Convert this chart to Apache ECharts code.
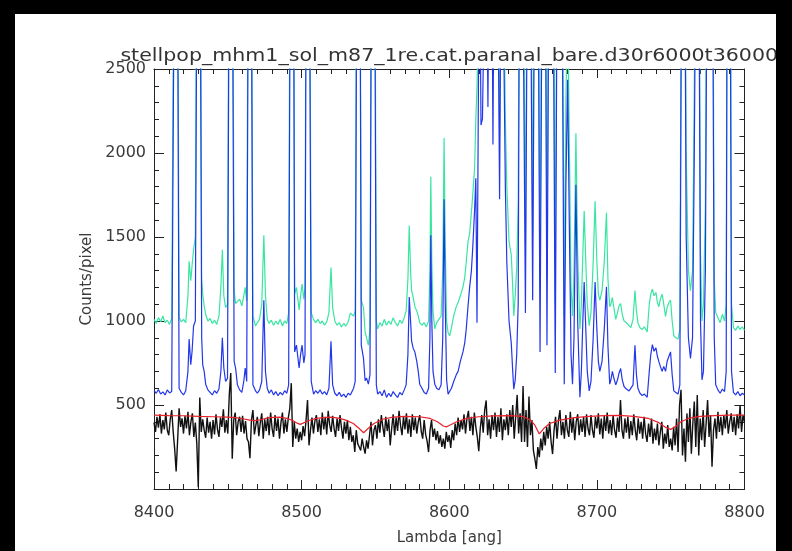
<!DOCTYPE html>
<html>
<head>
<meta charset="utf-8">
<script src="https://cdn.jsdelivr.net/npm/echarts@6/dist/echarts.min.js"></script>
<style>
  html, body { margin: 0; padding: 0; width: 792px; height: 551px; background: #000; overflow: hidden; }
  #chart { position: absolute; left: 15px; top: 14px; width: 761px; height: 537px; background: #fff; }
</style>
</head>
<body>
<div id="chart"></div>
<script>
// Axis ranges and tick labels
const xTicks = [8400, 8500, 8600, 8700, 8800];
const yTicks = [500, 1000, 1500, 2000, 2500];
const titleText = 'stellpop_mhm1_sol_m87_1re.cat.paranal_bare.d30r6000t36000';

// Object + sky spectrum (green), [lambda, counts]
const skyPlusObject = [
  [8400,1010],[8401.5,985],[8403,1020],[8404.5,995],[8406,1030],[8407.5,990],[8409,1005],[8410.5,980],[8412,1015],
  [8412.6,1020],[8413.6,3500],[8414.8,9000],[8416,3500],[8417,1020],[8418.5,995],[8420,1010],[8421.5,990],[8423,1150],
  [8423.8,1356],[8424.9,1240],[8425.8,1330],[8426.8,1424],[8428,1500],[8429,3500],[8430.2,9000],[8431.4,3500],[8432.3,1250],
  [8433,1160],[8434,1090],[8435,1040],[8436.5,1000],[8438,1015],[8439.5,985],[8441,1005],[8442.5,980],[8444,1030],
  [8445.3,1200],[8446.3,1424],[8447.3,1150],[8448.5,1080],[8449.8,1100],[8450.8,3500],[8452,9000],[8453.2,3500],[8454.3,1180],
  [8455.3,1104],[8456.5,1100],[8458,1130],[8459.5,1090],[8460.8,1150],[8461.8,1200],[8462.8,1120],[8463.8,3500],[8464.8,9000],
  [8466,3500],[8467,1030],[8468.8,970],[8470,990],[8471.5,1010],[8473,1100],[8474.4,1510],[8475.5,1150],[8476.7,1010],
  [8478,985],[8479.5,1005],[8481,975],[8482.5,1000],[8484,980],[8485.5,1010],[8487,970],[8488.5,1000],[8490,985],
  [8491.2,1050],[8492.2,3500],[8493.4,9000],[8494.6,3500],[8495.3,1160],[8496.5,1200],[8498.3,1066],[8499.3,1150],[8500.3,1220],
  [8501.5,1130],[8502.3,1200],[8503,3500],[8504.2,9000],[8505.4,3500],[8506.5,1050],[8508.1,1008],[8509.5,990],[8511,1010],
  [8512.5,985],[8514,1000],[8515.5,975],[8517,995],[8518.5,1050],[8519.9,1318],[8521,1080],[8522.5,1000],[8524,975],
  [8525.5,990],[8527,965],[8528.5,985],[8530,970],[8531.5,995],[8533,1047],[8535.2,1030],[8536.3,1060],[8537.3,3500],
  [8538.5,9000],[8539.6,3500],[8540.4,1124],[8541.9,1080],[8543,933],[8544,900],[8545.2,856],[8546.3,950],[8547.2,3500],
  [8548.4,9000],[8549.6,3500],[8550.6,1000],[8551.5,953],[8553,990],[8554.5,970],[8556,1010],[8557.5,975],[8559,1000],
  [8560.5,980],[8562,1020],[8563.5,990],[8565,970],[8566.5,1005],[8568,985],[8569.5,1020],[8570.8,1060],[8572,1250],
  [8572.9,1568],[8573.8,1300],[8574.5,1180],[8575.5,1143],[8576.7,1085],[8578,1060],[8579,1030],[8580,989],[8581.5,975],
  [8583,990],[8584.5,965],[8586,1000],[8586.9,1300],[8587.5,1858],[8588.2,1350],[8589,1060],[8590.2,953],[8591.5,990],
  [8593,1010],[8594.5,1030],[8595.6,1300],[8596.5,2089],[8597.3,1450],[8598.2,1000],[8599.2,930],[8600.3,912],[8601.5,960],
  [8603,1030],[8604.8,1087],[8606,1110],[8607.5,1150],[8609.3,1202],[8610.5,1260],[8611.5,1350],[8612.7,1472],[8613.8,1520],
  [8615,1645],[8616,1760],[8617.2,1915],[8618,2200],[8618.8,2400],[8619.5,2700],[8620.5,4000],[8621.5,2650],[8622.5,2700],
  [8623.5,3200],[8624.5,5500],[8625.5,3500],[8626.2,2700],[8627.2,4000],[8628.2,5500],[8629,3500],[8629.6,2500],[8630.5,4000],
  [8631.5,6500],[8633,3500],[8634.1,2150],[8635,3500],[8636,5500],[8637,3000],[8638,2200],[8639,1800],[8640.5,1472],
  [8642,1395],[8643,1200],[8643.7,1030],[8644.7,1150],[8645.7,1318],[8646.7,1700],[8647.5,3500],[8648.7,8500],[8650,3500],
  [8651.6,1450],[8652.8,3500],[8654,8500],[8655.2,3500],[8656.5,1520],[8657.7,3500],[8659,8500],[8660.3,3500],[8661.5,1220],
  [8662.8,3500],[8664,8500],[8665.2,3500],[8666.2,1250],[8667.4,3500],[8669,8500],[8670.5,3500],[8671.8,1100],[8673,3500],
  [8674.8,8500],[8676.5,3500],[8677.9,1030],[8679,2300],[8680.2,2900],[8681.3,2100],[8682.5,1200],[8683.5,1030],[8684.5,1300],
  [8685.8,2118],[8687,1400],[8688.5,953],[8689.5,1100],[8690.5,1400],[8691.4,1655],[8692.5,1350],[8693.5,1100],[8694.8,972],
  [8696,1050],[8697.5,1350],[8698.8,1713],[8700,1350],[8701,1160],[8702,1124],[8703.5,1180],[8705,1350],[8706.5,1645],
  [8707.5,1250],[8708.7,1085],[8709.5,1100],[8710.5,1140],[8711.5,1080],[8712.8,1010],[8714,1050],[8715,1090],[8716.1,1104],
  [8717.2,1040],[8718.4,1000],[8720,990],[8721.8,972],[8723,960],[8724.5,1010],[8725.8,1181],[8726.8,1060],[8727.8,990],
  [8729.2,960],[8730.7,950],[8732.2,965],[8734.1,935],[8735.5,1100],[8736.5,1160],[8737.6,1190],[8738.7,1150],[8740,1170],
  [8741,1110],[8742,1085],[8743,1130],[8744.2,1160],[8745.3,1100],[8746.5,1027],[8747.6,1080],[8748.8,1110],[8749.9,1124],
  [8751,1000],[8752.1,912],[8753.5,900],[8755,893],[8756.2,950],[8757.3,3500],[8758.5,9000],[8759.7,3500],[8760.5,2000],
  [8762,1300],[8763.4,1180],[8764.8,1300],[8766,2400],[8766.8,3500],[8768,9000],[8769.2,3500],[8770.2,1400],[8771.2,1000],
  [8772.2,1100],[8773.5,1700],[8774.5,3500],[8775.5,9000],[8776.5,4500],[8777.5,9000],[8778.5,3500],[8779.5,1250],[8780.5,1050],
  [8782,1020],[8783.5,990],[8785,1040],[8786.5,1000],[8787.6,1100],[8788.2,3500],[8789.3,9000],[8790.4,3500],[8791.2,1100],
  [8792.5,960],[8794,945],[8795.5,970],[8797,950],[8798.5,965],[8800,945]
];

// Sky spectrum (blue), [lambda, counts]
const skySpectrum = [
  [8400,585],[8401.5,570],[8403,592],[8404.5,565],[8406,578],[8407.5,560],[8409,590],[8410.5,572],[8412,580],
  [8412.6,590],[8413.6,3000],[8414.8,9000],[8416,3000],[8417,600],[8418.5,575],[8420,560],[8421.5,585],[8423,700],
  [8423.8,893],[8424.9,740],[8425.8,820],[8426.8,970],[8428,1000],[8429,3000],[8430.2,9000],[8431.4,3000],[8432.3,900],
  [8433,739],[8434,700],[8435,624],[8436.5,590],[8438,575],[8439.5,560],[8441,585],[8442.5,570],[8444,595],
  [8445.3,700],[8446.3,900],[8447.3,720],[8448.5,640],[8449.8,660],[8450.8,3000],[8452,9000],[8453.2,3000],[8454.3,760],
  [8455.3,718],[8456.5,620],[8458,590],[8459.5,575],[8460.8,640],[8461.8,720],[8462.8,640],[8463.8,3000],[8464.8,9000],
  [8466,3000],[8467,620],[8468.8,584],[8470,570],[8471.5,590],[8473,640],[8474.4,1124],[8475.5,700],[8476.7,600],
  [8478,570],[8479.5,590],[8481,560],[8482.5,580],[8484,555],[8485.5,575],[8487,560],[8488.5,585],[8490,570],
  [8491.2,620],[8492.2,3000],[8493.4,9000],[8494.6,3000],[8495.3,816],[8496.5,856],[8498.3,720],[8499.3,800],[8500.3,856],
  [8501.5,750],[8502.3,800],[8503,3000],[8504.2,9000],[8505.4,3000],[8506.5,640],[8508.1,565],[8509.5,585],[8511,570],
  [8512.5,590],[8514,565],[8515.5,580],[8517,560],[8518.5,600],[8519.9,880],[8521,620],[8522.5,570],[8524,555],
  [8525.5,575],[8527,550],[8528.5,565],[8530,545],[8531.5,570],[8533,560],[8535.2,600],[8536.3,640],[8537.3,3000],
  [8538.5,9000],[8539.6,3000],[8540.4,856],[8541.9,779],[8543,644],[8544,660],[8545.2,624],[8546.3,680],[8547.2,3000],
  [8548.4,9000],[8549.6,3000],[8550.6,620],[8551.5,565],[8553,580],[8554.5,555],[8556,590],[8557.5,545],[8559,570],
  [8560.5,550],[8562,580],[8563.5,560],[8565,545],[8566.5,575],[8568,560],[8569.5,590],[8570.8,620],[8572,800],
  [8572.9,1143],[8573.8,1000],[8574.5,880],[8575.5,840],[8576.7,816],[8578,760],[8579,700],[8580,624],[8581.5,600],
  [8583,575],[8584.5,565],[8586,600],[8586.9,900],[8587.5,1510],[8588.2,1000],[8589,700],[8590.2,624],[8591.5,600],
  [8593,590],[8594.5,620],[8595.6,900],[8596.5,1724],[8597.3,1100],[8598.2,650],[8599.2,565],[8600.3,565],[8601.5,600],
  [8603,640],[8604.8,681],[8606,700],[8607.5,760],[8609.3,816],[8610.5,870],[8611.5,950],[8612.7,1087],[8613.8,1200],
  [8615,1298],[8616,1450],[8617.2,1665],[8618,1850],[8618.8,990],[8619.5,2000],[8620.5,3500],[8621.5,2166],[8622.5,2205],
  [8623.5,2800],[8624.5,5000],[8625.5,3000],[8626.2,2274],[8627.2,3500],[8628.2,5000],[8629,3000],[8629.6,2050],[8630.5,3500],
  [8631.5,6000],[8633,3000],[8634.1,1724],[8635,3000],[8636,5000],[8637,2600],[8638,1800],[8639,1350],[8640.5,1000],
  [8642,870],[8643,700],[8643.7,594],[8644.7,650],[8645.7,800],[8646.7,1100],[8647.5,3000],[8648.7,8000],[8650,3000],
  [8651.6,1047],[8652.8,3000],[8654,8000],[8655.2,3000],[8656.5,1124],[8657.7,3000],[8659,8000],[8660.3,3000],[8661.5,816],
  [8662.8,3000],[8664,8000],[8665.2,3000],[8666.2,856],[8667.4,3000],[8669,8000],[8670.5,3000],[8671.8,690],[8673,3000],
  [8674.8,8000],[8676.5,3000],[8677.9,624],[8679,1800],[8680.2,2436],[8681.3,1600],[8682.5,800],[8683.5,624],[8684.5,900],
  [8685.8,1811],[8687,1000],[8688.5,546],[8689.5,700],[8690.5,1000],[8691.4,1232],[8692.5,950],[8693.5,700],[8694.8,584],
  [8696,640],[8697.5,900],[8698.8,1232],[8700,950],[8701,760],[8702,700],[8703.5,760],[8705,950],[8706.5,1203],
  [8707.5,850],[8708.7,624],[8709.5,650],[8710.5,700],[8711.5,660],[8712.8,620],[8714,650],[8715,690],[8716.1,717],
  [8717.2,650],[8718.4,610],[8720,595],[8721.8,584],[8723,575],[8724.5,620],[8725.8,856],[8726.8,680],[8727.8,600],
  [8729.2,570],[8730.7,556],[8732.2,565],[8734.1,546],[8735.5,700],[8736.5,800],[8737.6,860],[8738.7,820],[8740,840],
  [8741,790],[8742,758],[8743,730],[8744.2,700],[8745.3,730],[8746.5,700],[8747.6,760],[8748.8,790],[8749.9,816],
  [8751,680],[8752.1,584],[8753.5,575],[8755,565],[8756.2,620],[8757.3,3000],[8758.5,9000],[8759.7,3000],[8760.5,1500],
  [8762,900],[8763.4,777],[8764.8,900],[8766,2000],[8766.8,3000],[8768,9000],[8769.2,3000],[8770.2,1000],[8771.2,650],
  [8772.2,700],[8773.5,1300],[8774.5,3000],[8775.5,9000],[8776.5,4000],[8777.5,9000],[8778.5,3000],[8779.5,900],[8780.5,620],
  [8782,590],[8783.5,570],[8785,595],[8786.5,580],[8787.6,700],[8788.2,3000],[8789.3,9000],[8790.4,3000],[8791.2,700],
  [8792.5,575],[8794,560],[8795.5,580],[8797,555],[8798.5,570],[8800,560]
];

// Sky-subtracted object spectrum (black), one value per angstrom from 8400
const objectStart = 8400;
const objectFlux = [
  395,340,430,365,445,330,410,355,455,350,
  320,415,470,340,240,104,290,480,370,420,
  330,435,360,460,320,400,450,310,395,270,
  10,545,340,415,350,305,425,335,400,300,
  410,325,445,355,310,425,370,475,335,410,
  330,560,690,180,410,455,320,400,430,340,
  435,330,405,300,280,183,410,470,325,380,
  430,315,395,450,300,415,345,430,320,455,
  360,310,440,345,420,300,395,455,330,415,
  340,425,480,630,250,400,300,360,280,340,
  290,375,315,410,530,260,350,425,330,405,
  440,340,415,320,455,355,430,325,465,380,
  340,435,360,310,420,345,440,365,300,400,
  330,410,290,370,280,320,220,350,270,250,
  230,300,250,210,290,240,320,400,260,350,
  380,300,415,335,440,370,310,430,345,415,
  260,360,445,320,425,345,465,380,320,430,
  355,450,330,415,310,445,350,425,330,400,
  440,345,300,410,325,285,220,350,410,310,
  360,290,345,270,320,250,300,240,340,280,
  320,245,350,290,390,320,425,340,410,355,
  445,330,420,465,345,430,320,455,370,310,
  225,360,440,335,470,527,320,415,300,440,
  350,455,310,430,340,480,290,415,350,445,
  320,470,370,500,300,430,560,330,450,280,
  613,280,470,250,550,320,410,230,180,120,
  250,190,300,230,340,260,370,300,400,280,
  208,350,430,300,410,470,320,400,300,440,
  350,310,460,335,425,290,400,445,320,415,
  340,430,310,445,360,320,440,350,305,430,
  360,450,325,420,300,435,345,455,330,410,
  320,440,350,305,425,340,530,350,300,420,
  335,430,300,405,320,445,350,290,420,330,
  400,300,430,330,280,390,310,420,270,360,
  290,390,260,340,400,240,330,270,380,250,
  300,230,370,260,420,220,500,590,200,360,
  162,450,280,480,210,390,520,250,560,200,
  420,290,470,250,390,530,310,440,133,350,
  420,300,460,340,430,320,440,360,470,330,
  400,450,340,430,320,445,360,500,340,440,
  400
];

// Smooth template fit (red), [lambda, counts]
const templateFit = [
  [8400,440],[8410,437],[8420,436],[8430,432],[8440,430],[8450,428],[8455,425],[8460,418],[8465,410],[8468,407],
  [8472,412],[8478,425],[8485,428],[8490,420],[8494,408],[8497,392],[8499,385],[8501,392],[8505,408],[8510,420],
  [8515,425],[8520,428],[8525,422],[8530,410],[8535,390],[8539,360],[8542,335],[8545,360],[8549,390],[8555,415],
  [8562,428],[8570,432],[8580,430],[8587,420],[8592,400],[8596,375],[8598,370],[8600,378],[8605,400],[8612,420],
  [8620,430],[8630,435],[8640,437],[8650,432],[8655,410],[8658,380],[8661,328],[8664,360],[8668,390],[8675,410],
  [8685,425],[8695,432],[8705,437],[8715,438],[8725,432],[8735,420],[8742,395],[8747,365],[8750,355],[8753,370],
  [8757,400],[8762,420],[8770,432],[8780,437],[8790,440],[8800,440]
];

const objectData = objectFlux.map((v, i) => [objectStart + i, v]);

const font = 'DejaVu Sans';
const axisColor = '#222';
const textColor = '#3a3a3a';

const gridBox = { left: 139, top: 55, width: 590.5, height: 430 };

function xAxisBase(pos, showLabels) {
  return {
    type: 'value', position: pos, min: xTicks[0], max: xTicks[xTicks.length - 1], interval: 100,
    axisLine: { show: true, onZero: false, lineStyle: { color: axisColor, width: 1 } },
    axisTick: { show: true, inside: true, length: 9, lineStyle: { color: axisColor, width: 1 } },
    minorTick: { show: true, splitNumber: 10, length: 5, lineStyle: { color: axisColor, width: 1 } },
    splitLine: { show: false }, minorSplitLine: { show: false },
    axisLabel: {
      show: showLabels, fontFamily: font, fontSize: 16, color: textColor, margin: 16,
      formatter: v => String(v)
    }
  };
}
function yAxisBase(pos, showLabels) {
  return {
    type: 'value', position: pos, min: 0, max: yTicks[yTicks.length - 1], interval: 500,
    axisLine: { show: true, onZero: false, lineStyle: { color: axisColor, width: 1 } },
    axisTick: { show: true, inside: true, length: 10, lineStyle: { color: axisColor, width: 1 } },
    minorTick: { show: true, splitNumber: 5, length: 5, lineStyle: { color: axisColor, width: 1 } },
    splitLine: { show: false }, minorSplitLine: { show: false },
    axisLabel: {
      show: showLabels, fontFamily: font, fontSize: 16, color: textColor, margin: 8,
      formatter: v => (yTicks.indexOf(v) >= 0 ? String(v) : '')
    }
  };
}

const xBottom = Object.assign(xAxisBase('bottom', true), {
  name: 'Lambda [ang]', nameLocation: 'middle', nameGap: 42,
  nameTextStyle: { fontFamily: font, fontSize: 15, color: textColor }
});
const yLeft = Object.assign(yAxisBase('left', true), {
  name: 'Counts/pixel', nameLocation: 'middle', nameGap: 58,
  nameTextStyle: { fontFamily: font, fontSize: 15, color: textColor }
});

const lineSeries = (name, data, color, width) => ({
  name, type: 'line', data, showSymbol: false, symbol: 'none', clip: true,
  xAxisIndex: 0, yAxisIndex: 0,
  lineStyle: { color, width }, itemStyle: { color }, emphasis: { disabled: true }
});

const chart = echarts.init(document.getElementById('chart'), null, { renderer: 'canvas' });
chart.setOption({
  animation: false,
  backgroundColor: '#fff',
  // Title drawn as a horizontally widened text centred over the plot
  graphic: [{
    type: 'text', x: gridBox.left + gridBox.width / 2, y: 43, scaleX: 1.21, scaleY: 1,
    style: {
      text: titleText, fill: '#333', font: '17px "DejaVu Sans"',
      textAlign: 'center', textVerticalAlign: 'middle'
    }
  }],
  grid: Object.assign({ containLabel: false }, gridBox),
  xAxis: [xBottom, xAxisBase('top', false)],
  yAxis: [yLeft, yAxisBase('right', false)],
  series: [
    lineSeries('object+sky', skyPlusObject, '#38e6a2', 1.2),
    lineSeries('sky', skySpectrum, '#2236ea', 1.2),
    lineSeries('object', objectData, '#111', 1.4),
    lineSeries('fit', templateFit, '#e8222a', 1.2)
  ]
});
</script>
</body>
</html>
